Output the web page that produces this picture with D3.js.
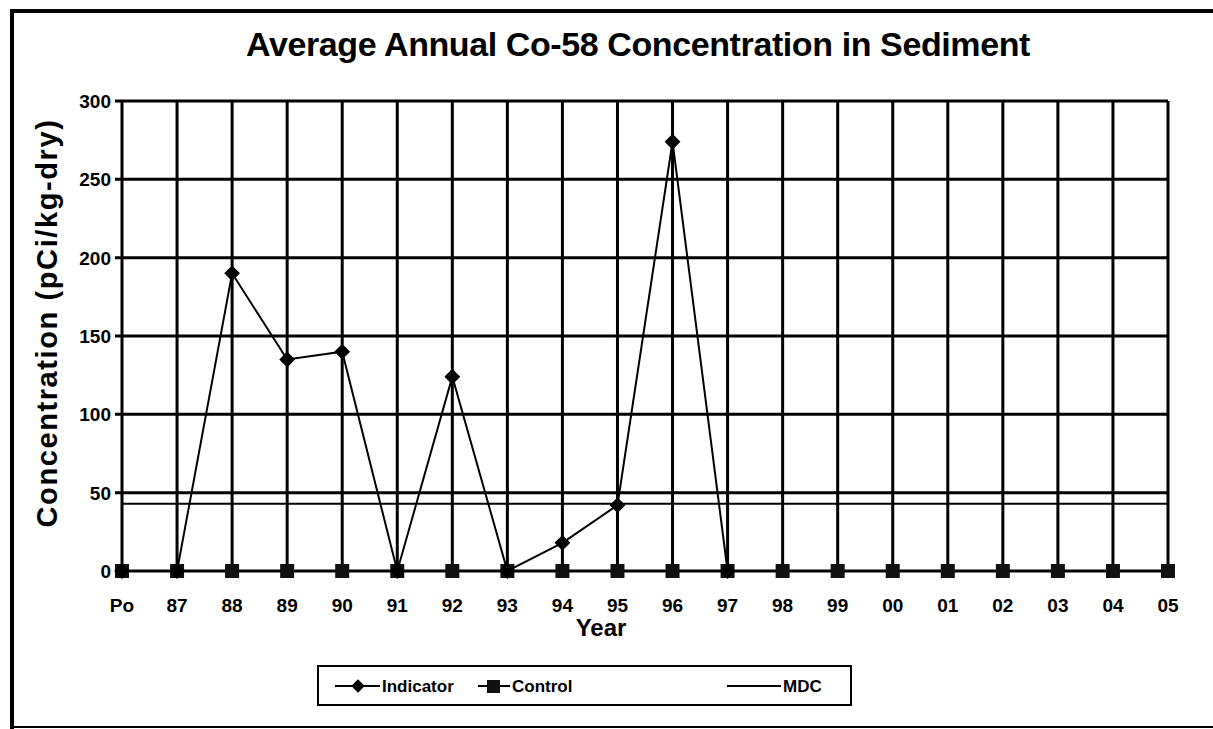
<!DOCTYPE html>
<meta charset="utf-8">
<style type="text/css">

body {
  margin: 0;
  background: #fff;
}

text {
  font-family: Arial, "Liberation Sans", sans-serif;
  font-weight: bold;
  fill: #000;
}

.grid line {
  stroke: #000;
  stroke-width: 3;
}

.series {
  fill: none;
  stroke: #000;
  stroke-width: 2;
}

</style>
<svg width="1213" height="729"></svg>
<script src="https://cdn.jsdelivr.net/npm/d3@7/dist/d3.min.js"></script>
<script>

var years = ["Po","87","88","89","90","91","92","93","94","95","96","97","98","99","00","01","02","03","04","05"];
var indicator = [0, 0, 190, 135, 140, 0, 124, 0, 18, 42, 274, 0];
var control = [0,0,0,0,0,0,0,0,0,0,0,0,0,0,0,0,0,0,0,0];
var mdc = [43, 43];
var yTicks = [0, 50, 100, 150, 200, 250, 300];

var svg = d3.select("svg"),
    width = +svg.attr("width"),
    height = +svg.attr("height");

var pLeft = 122, pRight = 1168, pTop = 101, pBottom = 571;

var x = d3.scalePoint().domain(years).range([pLeft, pRight]).padding(0);
var y = d3.scaleLinear().domain([0, 300]).range([pBottom, pTop]);

var diamond = d3.symbol(d3.symbolSquare, 125);

// outer frame
svg.append("path")
   .attr("d", "M12,729 L12,11 L1213,11")
   .attr("fill", "none").attr("stroke", "#000").attr("stroke-width", 4);
svg.append("line")
   .attr("x1", 12).attr("x2", 1213).attr("y1", 727).attr("y2", 727)
   .attr("stroke", "#000").attr("stroke-width", 2);

svg.append("text")
   .attr("x", 638).attr("y", 56)
   .attr("text-anchor", "middle")
   .attr("font-size", 34)
   .attr("letter-spacing", -0.4)
   .text("Average Annual Co-58 Concentration in Sediment");

var g = svg.append("g").attr("class", "grid");

// horizontal gridlines
g.selectAll(".hg").data(yTicks).enter().append("line")
   .attr("x1", pLeft - 7).attr("x2", pRight)
   .attr("y1", function(d){ return y(d); })
   .attr("y2", function(d){ return y(d); })
   .attr("stroke-width", function(d){ return d == 300 ? 4 : 3; });

// vertical gridlines
g.selectAll(".vg").data(years).enter().append("line")
   .attr("x1", function(d){ return x(d); })
   .attr("x2", function(d){ return x(d); })
   .attr("y1", pTop).attr("y2", pBottom)
   .attr("stroke-width", function(d, i){ return (i == 0 || i == years.length - 1) ? 4.5 : 3; });

// y tick labels
svg.selectAll(".ylab").data(yTicks).enter().append("text")
   .attr("x", pLeft - 11)
   .attr("y", function(d){ return y(d) + 7; })
   .attr("text-anchor", "end")
   .attr("font-size", 19)
   .text(function(d){ return d; });

// x tick labels
svg.selectAll(".xlab").data(years).enter().append("text")
   .attr("x", function(d){ return x(d); })
   .attr("y", 612)
   .attr("text-anchor", "middle")
   .attr("font-size", 19)
   .text(function(d){ return d; });

svg.append("text")
   .attr("x", 601).attr("y", 636)
   .attr("text-anchor", "middle")
   .attr("font-size", 24)
   .text("Year");

svg.append("text")
   .attr("transform", "translate(57,323) rotate(-90)")
   .attr("text-anchor", "middle")
   .attr("font-size", 29)
   .attr("letter-spacing", 1.6)
   .text("Concentration (pCi/kg-dry)");

// MDC
var line = d3.line()
   .x(function(d, i){ return x(years[i]); })
   .y(function(d){ return y(d); });

svg.append("line").attr("class", "series")
   .attr("x1", pLeft).attr("x2", pRight)
   .attr("y1", y(mdc[0])).attr("y2", y(mdc[1]));

// control
svg.append("path").attr("class", "series")
   .attr("stroke-width", 3)
   .attr("d", line(control));
svg.selectAll(".sq").data(control).enter().append("rect")
   .attr("x", function(d, i){ return x(years[i]) - 7; })
   .attr("y", function(d){ return y(d) - 7; })
   .attr("width", 14).attr("height", 14)
   .attr("fill", "#111");

// indicator
svg.append("path").attr("class", "series")
   .attr("d", line(indicator));
svg.selectAll(".dm").data(indicator).enter().append("path")
   .attr("transform", function(d, i){ return "translate(" + x(years[i]) + "," + y(d) + ") rotate(45)"; })
   .attr("d", diamond)
   .attr("fill", "#000");

// legend
var lg = svg.append("g");
lg.append("rect")
   .attr("x", 318).attr("y", 666).attr("width", 533).attr("height", 39)
   .attr("fill", "none").attr("stroke", "#000").attr("stroke-width", 2);

var items = [
  {name: "Indicator", x0: 335, x1: 380},
  {name: "Control", x0: 478, x1: 510},
  {name: "MDC", x0: 727, x1: 781}
];
lg.selectAll(".ll").data(items).enter().append("line")
   .attr("x1", function(d){ return d.x0; })
   .attr("x2", function(d){ return d.x1; })
   .attr("y1", 686).attr("y2", 686)
   .attr("stroke", "#000").attr("stroke-width", 2);
lg.append("path")
   .attr("transform", "translate(358,686) rotate(45)")
   .attr("d", d3.symbol(d3.symbolSquare, 90));
lg.append("rect")
   .attr("x", 487).attr("y", 680).attr("width", 13).attr("height", 13)
   .attr("fill", "#111");
lg.selectAll(".lt").data(items).enter().append("text")
   .attr("x", function(d){ return d.x1 + 2; })
   .attr("y", 692)
   .attr("font-size", 17)
   .text(function(d){ return d.name; });

</script>
